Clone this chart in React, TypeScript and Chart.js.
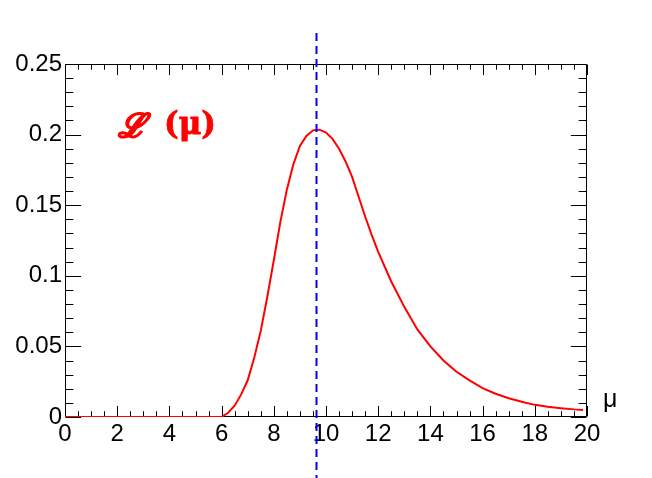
import React, { useEffect, useRef } from 'react';
import { Chart, registerables } from 'chart.js';

Chart.register(...registerables);

// ---- data ----
const MU_VALUES = [
  0, 2, 4, 6, 6.25, 6.5, 6.75, 7, 7.25, 7.5, 7.75, 8, 8.25, 8.5, 8.75, 9, 9.25, 9.5, 9.75,
  10, 10.25, 10.5, 10.75, 11, 11.25, 11.5, 11.75, 12, 12.5, 13, 13.5, 14, 14.5, 15, 15.5,
  16, 16.5, 17, 17.5, 18, 18.5, 19, 19.5, 19.85,
];
const LIKELIHOOD = [
  0, 0, 0, 0, 0.003, 0.008, 0.016, 0.026, 0.042, 0.061, 0.085, 0.111, 0.138, 0.161, 0.179,
  0.192, 0.199, 0.203, 0.2035, 0.2015, 0.197, 0.19, 0.181, 0.17, 0.156, 0.142, 0.129, 0.117,
  0.096, 0.078, 0.062, 0.05, 0.04, 0.032, 0.026, 0.0205, 0.0165, 0.0133, 0.0108, 0.0086,
  0.0072, 0.0062, 0.0054, 0.005,
];
const MU_HAT = 9.6;
const X_TICK_LABELS = ['0', '2', '4', '6', '8', '10', '12', '14', '16', '18', '20'];
const Y_TICK_LABELS = ['0', '0.05', '0.1', '0.15', '0.2', '0.25'];
const X_RANGE = [0, 20];
const Y_RANGE = [0, 0.25];
const X_TITLE = 'μ';
const CURVE_SYMBOL = 'ℒ';
const CURVE_ARG = '(μ)';

const rootFramePlugin = {
  id: 'rootFrame',
  beforeDatasetsDraw(chart: any) {
    const { ctx, chartArea: a, scales } = chart;
    const xs = scales.x;
    const ys = scales.y;
    ctx.save();
    ctx.strokeStyle = '#000';
    ctx.lineWidth = 1;
    ctx.beginPath();
    const L = Math.round(a.left) + 0.5;
    const R = Math.round(a.right) - 0.5;
    const T = Math.round(a.top) + 0.5;
    const B = Math.round(a.bottom) - 0.5;
    ctx.rect(L, T, R - L, B - T);
    const xMajLen = 0.03 * (a.bottom - a.top);
    const yMajLen = 0.03 * (a.right - a.left);
    for (let i = 0; i <= 40; i++) {
      const v = X_RANGE[0] + i * 0.5;
      const px = Math.round(xs.getPixelForValue(v)) + 0.5;
      const len = i % 4 === 0 ? xMajLen : xMajLen / 2;
      ctx.moveTo(px, B);
      ctx.lineTo(px, B - len);
      ctx.moveTo(px, T);
      ctx.lineTo(px, T + len);
    }
    for (let i = 0; i <= 25; i++) {
      const v = Y_RANGE[0] + i * 0.01;
      const py = Math.round(ys.getPixelForValue(v)) + 0.5;
      const len = i % 5 === 0 ? yMajLen : yMajLen / 2;
      ctx.moveTo(L, py);
      ctx.lineTo(L + len, py);
      ctx.moveTo(R, py);
      ctx.lineTo(R - len, py);
    }
    ctx.stroke();
    ctx.restore();
  },
  afterDatasetsDraw(chart: any) {
    const { ctx, chartArea: a, scales } = chart;
    const px = Math.round(scales.x.getPixelForValue(MU_HAT)) + 0.5;
    ctx.save();
    ctx.strokeStyle = '#0000ff';
    ctx.lineWidth = 2;
    ctx.setLineDash([8, 5]);
    ctx.beginPath();
    ctx.moveTo(px, a.top - 31);
    ctx.lineTo(px, chart.height);
    ctx.stroke();
    ctx.setLineDash([]);

    // axis title
    ctx.fillStyle = '#000';
    ctx.font = '25px "Liberation Sans", Arial, sans-serif';
    ctx.textAlign = 'left';
    ctx.textBaseline = 'alphabetic';
    ctx.fillText(X_TITLE, a.right + 16, a.bottom - 10);

    // curve label
    ctx.fillStyle = '#ff0000';
    ctx.strokeStyle = '#ff0000';
    ctx.lineWidth = 1.3;
    ctx.font = 'italic bold 33px "DejaVu Serif", serif';
    ctx.fillText(CURVE_SYMBOL, a.left + 53, a.top + 73);
    ctx.strokeText(CURVE_SYMBOL, a.left + 53, a.top + 73);
    ctx.font = 'bold 31px "DejaVu Serif", serif';
    ctx.fillText(CURVE_ARG, a.left + 99, a.top + 70);
    ctx.lineWidth = 0.8;
    ctx.strokeText(CURVE_ARG, a.left + 99, a.top + 70);
    ctx.restore();
  },
};

export default function App() {
  const canvasRef = useRef<HTMLCanvasElement | null>(null);

  useEffect(() => {
    if (!canvasRef.current) return;
    const points = MU_VALUES.map((x, i) => ({ x, y: LIKELIHOOD[i] }));
    const chart = new Chart(canvasRef.current, {
      type: 'line',
      data: {
        datasets: [
          {
            label: 'L(mu)',
            data: points,
            borderColor: '#ff0000',
            borderWidth: 2,
            pointRadius: 0,
            tension: 0,
            fill: false,
          },
        ],
      },
      options: {
        responsive: false,
        animation: false,
        events: [],
        layout: { padding: { top: 64, right: 65, left: 0, bottom: 0 } },
        plugins: {
          legend: { display: false },
          tooltip: { enabled: false },
          title: { display: false },
        },
        scales: {
          x: {
            type: 'linear',
            min: X_RANGE[0],
            max: X_RANGE[1],
            grid: { display: false, drawTicks: false, tickLength: 0 },
            border: { display: false },
            ticks: {
              stepSize: 2,
              autoSkip: false,
              maxRotation: 0,
              padding: 3,
              color: '#000',
              font: { family: '"Liberation Sans", Arial, sans-serif', size: 24 },
              callback: (_v: any, i: number) => X_TICK_LABELS[i],
            },
            afterFit: (s: any) => {
              s.height = 61;
            },
          },
          y: {
            type: 'linear',
            min: Y_RANGE[0],
            max: Y_RANGE[1],
            grid: { display: false, drawTicks: false, tickLength: 0 },
            border: { display: false },
            ticks: {
              stepSize: 0.05,
              autoSkip: false,
              padding: 3,
              color: '#000',
              font: { family: '"Liberation Sans", Arial, sans-serif', size: 24 },
              callback: (_v: any, i: number) => Y_TICK_LABELS[i],
            },
            afterFit: (s: any) => {
              s.width = 65;
            },
          },
        },
      },
      plugins: [rootFramePlugin],
    });
    return () => chart.destroy();
  }, []);

  return (
    <div style={{ position: 'fixed', left: 0, top: 0, width: 652, height: 478, background: '#fff' }}>
      <canvas ref={canvasRef} width={652} height={478} style={{ display: 'block' }} />
    </div>
  );
}
